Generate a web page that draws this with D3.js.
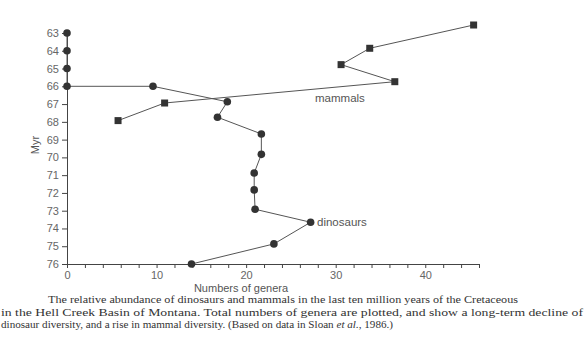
<!DOCTYPE html>
<html><head><meta charset="utf-8">
<script src="https://cdn.jsdelivr.net/npm/d3@7"></script>
<style>
html,body{margin:0;padding:0;background:#fff;}
svg{display:block;}
</style></head>
<body>
<script>
// ---- data ----
const yTicks = [63,64,65,66,67,68,69,70,71,72,73,74,75,76];
const xTickLabels = [0,10,20,30,40];
const dinoMyr    = [63,64,65,66,66,66.87,67.74,68.68,69.83,70.88,71.83,72.92,73.65,74.87,76];
const dinoGenera = [0,0,0,0,9.6,17.9,16.8,21.7,21.7,20.9,20.9,21.0,27.2,23.1,13.9];
const mammalMyr    = [67.93,66.94,65.74,64.78,63.86,62.55];
const mammalGenera = [5.7,10.9,36.6,30.6,33.8,45.4];
const captionLines = [
  "The relative abundance of dinosaurs and mammals in the last ten million years of the Cretaceous",
  "in the Hell Creek Basin of Montana. Total numbers of genera are plotted, and show a long-term decline of",
  ["dinosaur diversity, and a rise in mammal diversity. (Based on data in Sloan ", "et al.", ", 1986.)"]
];

const W = 585, H = 356;
const svg = d3.select("body").append("svg").attr("width", W).attr("height", H);

const x = d3.scaleLinear().domain([0,46]).range([67,479]);
const y = d3.scaleLinear().domain([63,76]).range([33,264]);

const ink = "#333";
const axisCol = "#444";
const labelCol = "#666";
const sans = "'Liberation Sans', Arial, sans-serif";

// y axis
const yAxis = d3.axisLeft(y).tickValues(yTicks).tickFormat(d3.format("d")).tickSize(5).tickSizeOuter(0).tickPadding(3);
const gy = svg.append("g").attr("transform", `translate(${x(0)},0)`).call(yAxis);
gy.select(".domain").attr("stroke", axisCol);
gy.selectAll(".tick line").attr("stroke", axisCol);
gy.selectAll(".tick text").attr("fill", labelCol).style("font-family", sans).style("font-size", "11px");

// x axis
const xAxis = d3.axisBottom(x).tickValues(d3.range(0,47,2))
  .tickFormat(d => xTickLabels.includes(d) ? d : "").tickSize(4).tickSizeOuter(0).tickPadding(3);
const gx = svg.append("g").attr("transform", `translate(0,${y(76)})`).call(xAxis);
gx.select(".domain").attr("stroke", axisCol);
gx.selectAll(".tick line").attr("stroke", axisCol);
gx.selectAll(".tick text").attr("fill", labelCol).style("font-family", sans).style("font-size", "11px");

// axis titles
svg.append("text").attr("x", 241).attr("y", 292).attr("text-anchor","middle")
  .attr("fill", "#555").style("font-family", sans).style("font-size","11px").text("Numbers of genera");
svg.append("text").attr("transform","translate(39,145) rotate(-90)").attr("text-anchor","middle")
  .attr("fill", "#555").style("font-family", sans).style("font-size","11px").text("Myr");

// lines
const line = d3.line().x(d => x(d[0])).y(d => y(d[1]));
const dino = dinoGenera.map((g,i) => [g, dinoMyr[i]]);
const mam = mammalGenera.map((g,i) => [g, mammalMyr[i]]);

svg.append("path").datum(mam).attr("d", line).attr("fill","none").attr("stroke", "#555").attr("stroke-width",1);
svg.append("path").datum(dino).attr("d", line).attr("fill","none").attr("stroke", "#555").attr("stroke-width",1);

svg.selectAll("circle.d").data(dino).enter().append("circle")
  .attr("cx", d => x(d[0])).attr("cy", d => y(d[1])).attr("r", 3.8).attr("fill", ink);
const s = 7;
svg.selectAll("rect.m").data(mam).enter().append("rect")
  .attr("x", d => x(d[0]) - s/2).attr("y", d => y(d[1]) - s/2).attr("width", s).attr("height", s).attr("fill", ink);

// series labels
svg.append("text").attr("x", 315).attr("y", 102).attr("fill","#555")
  .style("font-family", sans).style("font-size","11.5px").text("mammals");
svg.append("text").attr("x", 317).attr("y", 226).attr("fill","#555")
  .style("font-family", sans).style("font-size","11.5px").text("dinosaurs");

// caption
const serif = "'Liberation Serif', 'Times New Roman', serif";
const capFont = "11px";
svg.append("text").attr("x", 48).attr("y", 303).attr("fill", ink)
  .style("font-family", serif).style("font-size", capFont)
  .attr("textLength", 470).attr("lengthAdjust","spacingAndGlyphs").text(captionLines[0]);
svg.append("text").attr("x", 1).attr("y", 315.5).attr("fill", ink)
  .style("font-family", serif).style("font-size", capFont)
  .attr("textLength", 582).attr("lengthAdjust","spacingAndGlyphs").text(captionLines[1]);
const t3 = svg.append("text").attr("x", 1).attr("y", 328).attr("fill", ink)
  .style("font-family", serif).style("font-size", capFont)
  .attr("textLength", 392).attr("lengthAdjust","spacingAndGlyphs");
t3.append("tspan").text(captionLines[2][0]);
t3.append("tspan").style("font-style","italic").text(captionLines[2][1]);
t3.append("tspan").text(captionLines[2][2]);
</script>
</body></html>
